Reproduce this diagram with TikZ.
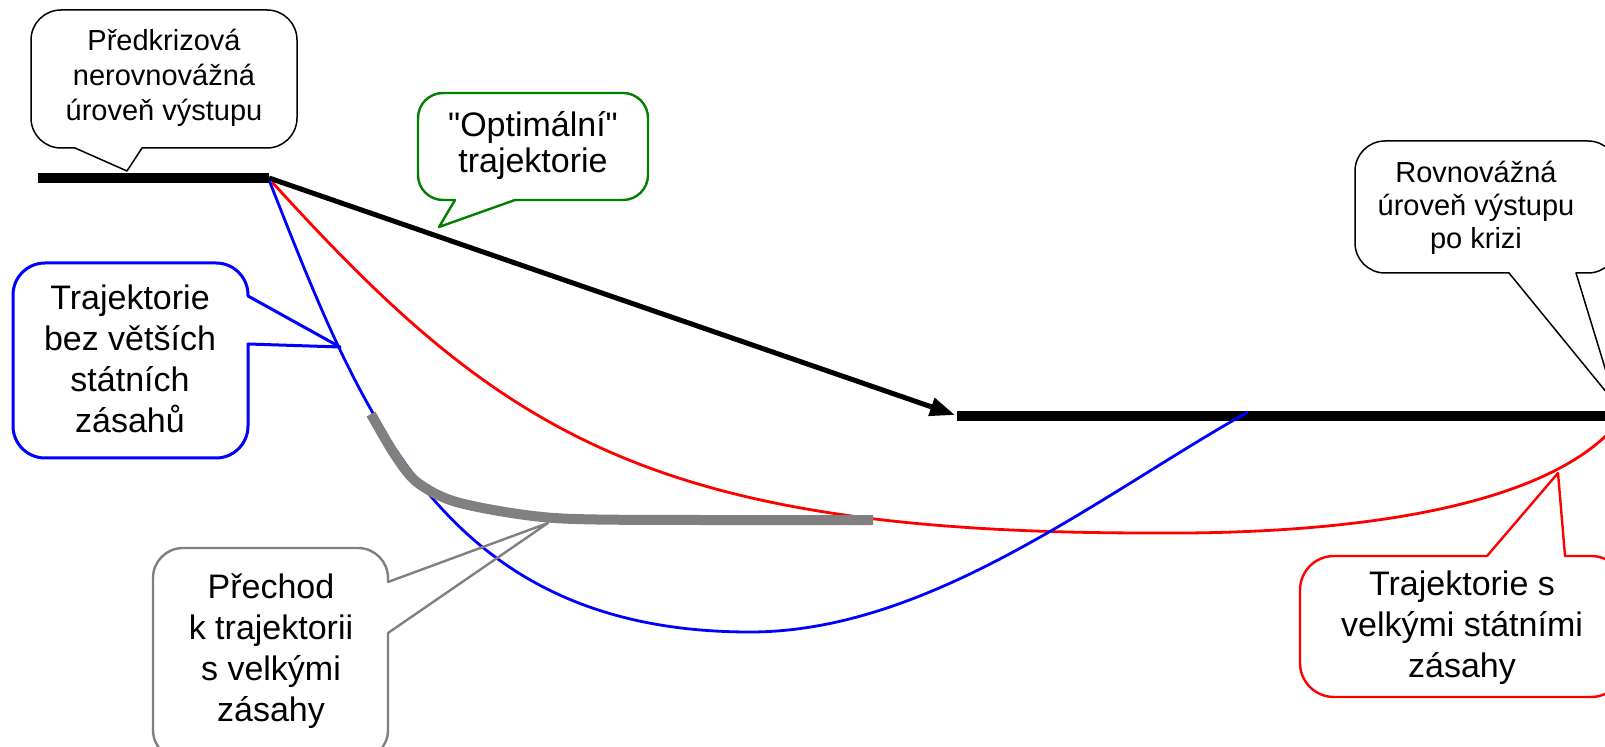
\documentclass[tikz,border=0pt]{standalone}
\usepackage{fontspec}
\setmainfont{Liberation Sans}[Ligatures=TeXOff]
\usetikzlibrary{arrows.meta}
\definecolor{cgreen}{RGB}{0,128,0}
\definecolor{cgrey}{RGB}{128,128,128}
\begin{document}
\begin{tikzpicture}[x=0.5pt,y=-0.5pt,
  bigtxt/.style={align=center,font=\fontsize{17}{20.5}\selectfont},
  smalltxt/.style={align=center,font=\fontsize{14.5}{17.5}\selectfont},
  level/.style={line width=5pt,line cap=butt},
  traj/.style={line width=1.4pt},
  callbox/.style={line join=round,line cap=round}]
\useasboundingbox (0,0) rectangle (1605,747);
% levels
\coordinate (L1a) at (38,178);
\coordinate (L1b) at (269,178);
\coordinate (L2a) at (957,416);
\coordinate (L2b) at (1625,416);
\draw[level] (L1a) -- (L1b);
\draw[level] (L2a) -- (L2b);
% trajectories
\coordinate (R0) at (272,182);
\coordinate (R1) at (1150,533);
\coordinate (R2) at (1622,418);
\draw[traj,red] (R0) .. controls (500,433) and (650,533) .. (R1)
                     .. controls (1380,535) and (1560,500) .. (R2);
\coordinate (B0) at (269,180);
\coordinate (B1) at (750,632);
\coordinate (B2) at (1248,412);
\draw[traj,blue] (B0) .. controls (360,410) and (440,632) .. (B1)
                      .. controls (930,632) and (1100,495) .. (B2);
\draw[line width=5pt,cgrey] plot[smooth,tension=0.5] coordinates {(371,414) (395,455) (418,483) (460,503) (554,518) (700,520) (873,520)};
% optimal arrow
\coordinate (A2) at (955,415);
\draw[line width=2.5pt,-{Triangle[length=12.5pt,width=9pt]}] (L1b) -- (A2);
% callout: pre-crisis level
\draw[callbox,line width=0.75pt,rounded corners=15pt] (142,148) -- (297,148) -- (297,10) -- (31,10) -- (31,148) -- (75,148);
\draw[callbox,line width=0.75pt] (75,148) -- (127,171) -- (142,148);
\node[smalltxt] (pre) at (164,78) {Předkrizová\\nerovnovážná\\úroveň výstupu};
% callout: optimal
\draw[callbox,cgreen,line width=1.2pt,rounded corners=12.5pt] (515,200) -- (648,200) -- (648,93) -- (418,93) -- (418,200) -- (455,200);
\draw[callbox,cgreen,line width=1.2pt] (455,200) -- (439,227) -- (515,200);
\node[align=center,font=\fontsize{17}{18}\selectfont] (opt) at (533,146) {"Optimální"\\trajektorie};
% callout: post-crisis level
\draw[callbox,line width=0.75pt,rounded corners=15pt] (1576,273) -- (1618,273) -- (1618,141) -- (1355,141) -- (1355,273) -- (1509,273);
\draw[callbox,line width=0.75pt] (1509,273) -- (1616,404) -- (1576,273);
\node[align=center,font=\fontsize{14.5}{16.5}\selectfont] (post) at (1476,208) {Rovnovážná\\úroveň výstupu\\po krizi};
% callout: blue
\draw[callbox,blue,line width=1.5pt,rounded corners=16pt] (248,344) -- (248,458) -- (13,458) -- (13,263) -- (248,263) -- (248,296);
\draw[callbox,blue,line width=1.5pt] (248,296) -- (340,347) -- (248,344);
\node[bigtxt] (nobig) at (130,359) {Trajektorie\\bez větších\\státních\\zásahů};
% callout: grey
\draw[callbox,cgrey,line width=1.2pt,rounded corners=15pt] (388,633) -- (388,760) -- (153,760) -- (153,548) -- (388,548) -- (388,582);
\draw[callbox,cgrey,line width=1.2pt] (388,582) -- (548,523) -- (388,633);
\node[bigtxt] (trans) at (271,651) {Přechod\\k trajektorii\\s velkými\\zásahy};
% callout: red
\draw[callbox,red,line width=1.2pt,rounded corners=17pt] (1565,556) -- (1625,556) -- (1625,697) -- (1300,697) -- (1300,556) -- (1487,556);
\draw[callbox,red,line width=1.2pt] (1487,556) -- (1558,473) -- (1565,556);
\node[bigtxt] (big) at (1462,628) {Trajektorie s\\velkými státními\\zásahy};
\end{tikzpicture}
\end{document}
